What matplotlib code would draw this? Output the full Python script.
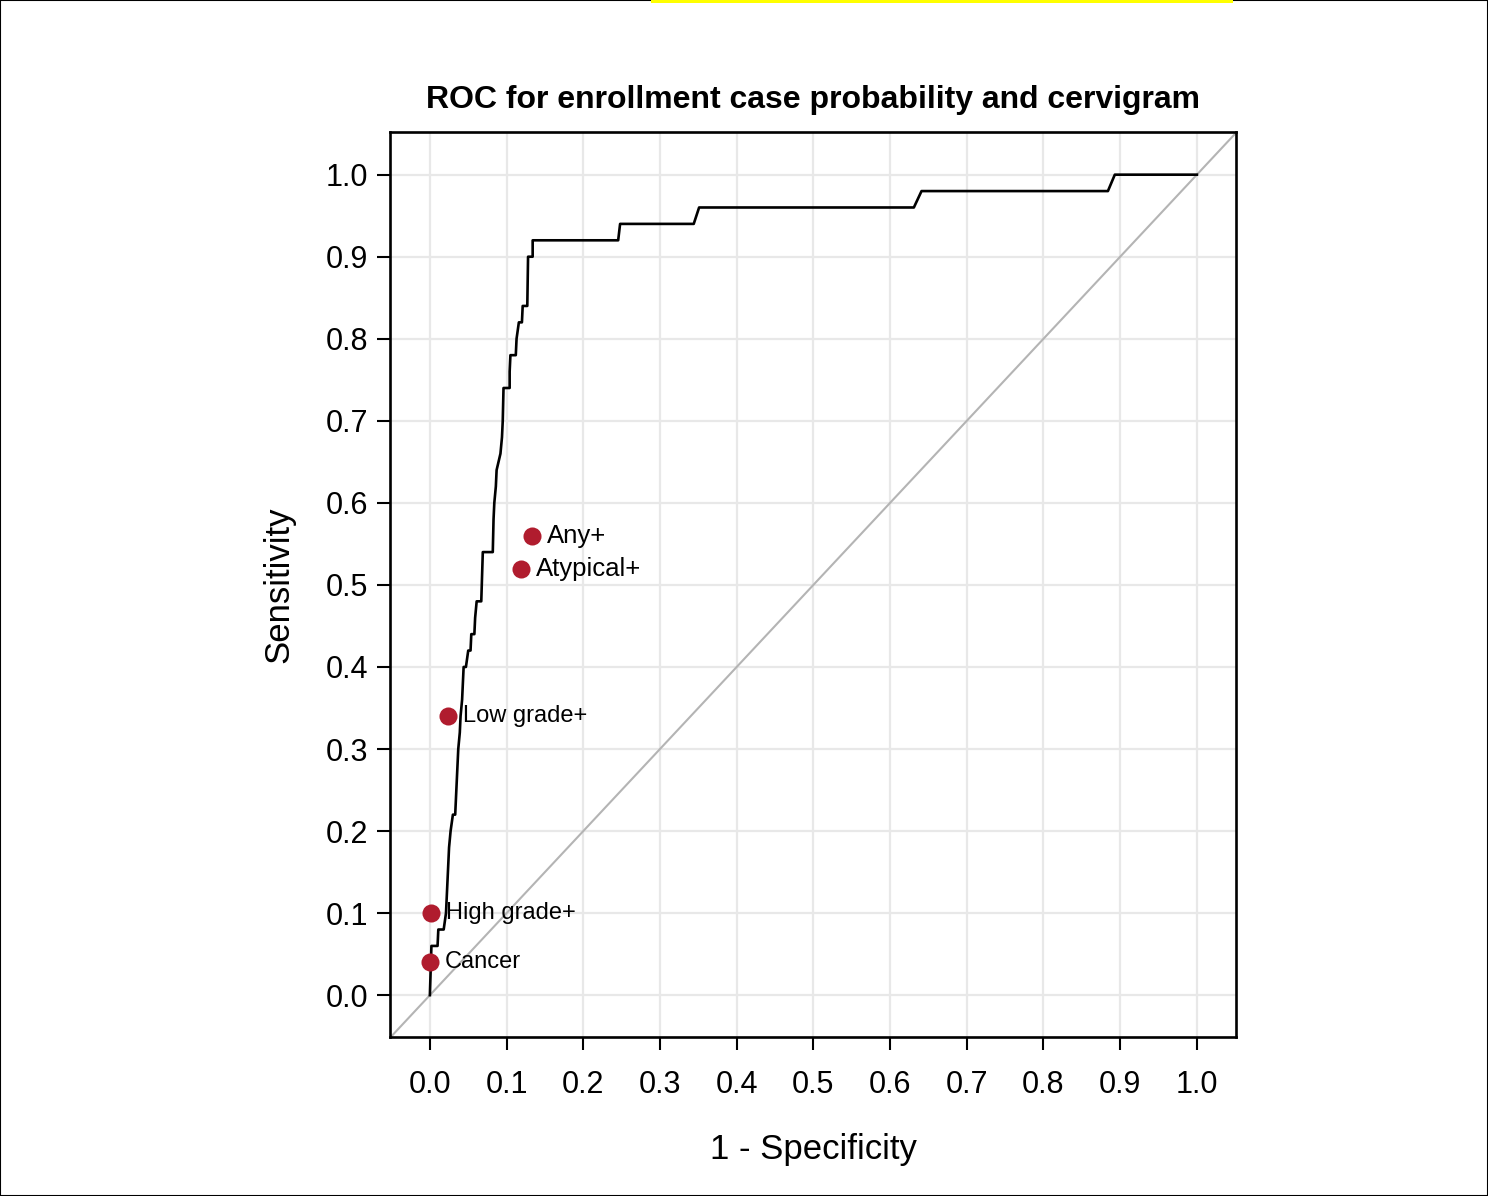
import numpy as np
import matplotlib.pyplot as plt
from matplotlib.patches import Rectangle

# ROC curve (1 - specificity, sensitivity)
fpr = [0.000, 0.002, 0.010, 0.011, 0.018, 0.021, 0.023, 0.025, 0.027, 0.030,
       0.033, 0.034, 0.035, 0.037, 0.039, 0.040, 0.042, 0.044, 0.047, 0.050,
       0.053, 0.054, 0.058, 0.059, 0.061, 0.067, 0.069, 0.082, 0.083, 0.084,
       0.086, 0.087, 0.092, 0.094, 0.095, 0.096, 0.104, 0.104, 0.105, 0.112,
       0.113, 0.116, 0.120, 0.121, 0.127, 0.128, 0.134, 0.134, 0.2455, 0.248,
       0.344, 0.351, 0.631, 0.641, 0.884, 0.893, 1.000]
sens = [0.00, 0.06, 0.06, 0.08, 0.08, 0.10, 0.14, 0.18, 0.20, 0.22,
        0.22, 0.24, 0.26, 0.30, 0.32, 0.34, 0.36, 0.40, 0.40, 0.42,
        0.42, 0.44, 0.44, 0.46, 0.48, 0.48, 0.54, 0.54, 0.58, 0.60,
        0.62, 0.64, 0.66, 0.68, 0.70, 0.74, 0.74, 0.76, 0.78, 0.78,
        0.80, 0.82, 0.82, 0.84, 0.84, 0.90, 0.90, 0.92, 0.92, 0.94,
        0.94, 0.96, 0.96, 0.98, 0.98, 1.00, 1.00]

# cervigram cut points
pt_labels = ["Any+", "Atypical+", "Low grade+", "High grade+", "Cancer"]
pt_fpr = [0.133, 0.119, 0.0235, 0.001, 0.000]
pt_sens = [0.56, 0.52, 0.34, 0.10, 0.04]
pt_fsize = [18.5, 18.5, 17, 17, 17]

ticks = np.round(np.arange(0, 1.01, 0.1), 1)
red = "#b01c2e"
font = "Liberation Sans"

fig = plt.figure(figsize=(14.88, 11.96), dpi=100)
ax = fig.add_axes([390 / 1488, 1 - 1037 / 1196, 846 / 1488, 905 / 1196])

ax.plot([-1, 2], [-1, 2], color="#b4b4b4", lw=1.5, zorder=2)
ax.plot(fpr, sens, color="black", lw=1.9, zorder=3)
ax.plot(pt_fpr, pt_sens, "o", color=red, ms=13, mec="none", zorder=4)
for lab, x, y, fs in zip(pt_labels, pt_fpr, pt_sens, pt_fsize):
    ax.annotate(lab, (x, y), xytext=(11, 0), textcoords="offset points",
                va="center", ha="left", fontsize=fs, family=font, zorder=5)

ax.set_xlim(-0.052, 1.051)
ax.set_ylim(-0.051, 1.052)
ax.set_xticks(ticks)
ax.set_yticks(ticks)
ax.set_xticklabels([f"{t:.1f}" for t in ticks])
ax.set_yticklabels([f"{t:.1f}" for t in ticks])
ax.grid(True, color="#e8e8e8", lw=1.6, zorder=0)
ax.set_axisbelow(True)
ax.tick_params(direction="out", length=9.5, width=1.5, labelsize=22)
ax.tick_params(axis="x", pad=14)
ax.tick_params(axis="y", pad=6)
for lab in ax.get_xticklabels() + ax.get_yticklabels():
    lab.set_family(font)
for s in ax.spines.values():
    s.set_linewidth(1.9)

ax.set_xlabel("1 - Specificity", fontsize=25, family=font, labelpad=24)
ax.set_ylabel("Sensitivity", fontsize=25, family=font, labelpad=22)
ax.set_title("ROC for enrollment case probability and cervigram", fontsize=23,
             fontweight="bold", family=font, pad=17)

# figure border and yellow marker bar at the top
fig.patches.append(Rectangle((0, 0), 1, 1, transform=fig.transFigure, fill=False,
                             ec="black", lw=1.5))
fig.patches.append(Rectangle((651 / 1488, 1 - 3 / 1196), 582 / 1488, 3 / 1196,
                             transform=fig.transFigure, fc="#ffff00", ec="none"))

fig.savefig("out.png", dpi=100)
